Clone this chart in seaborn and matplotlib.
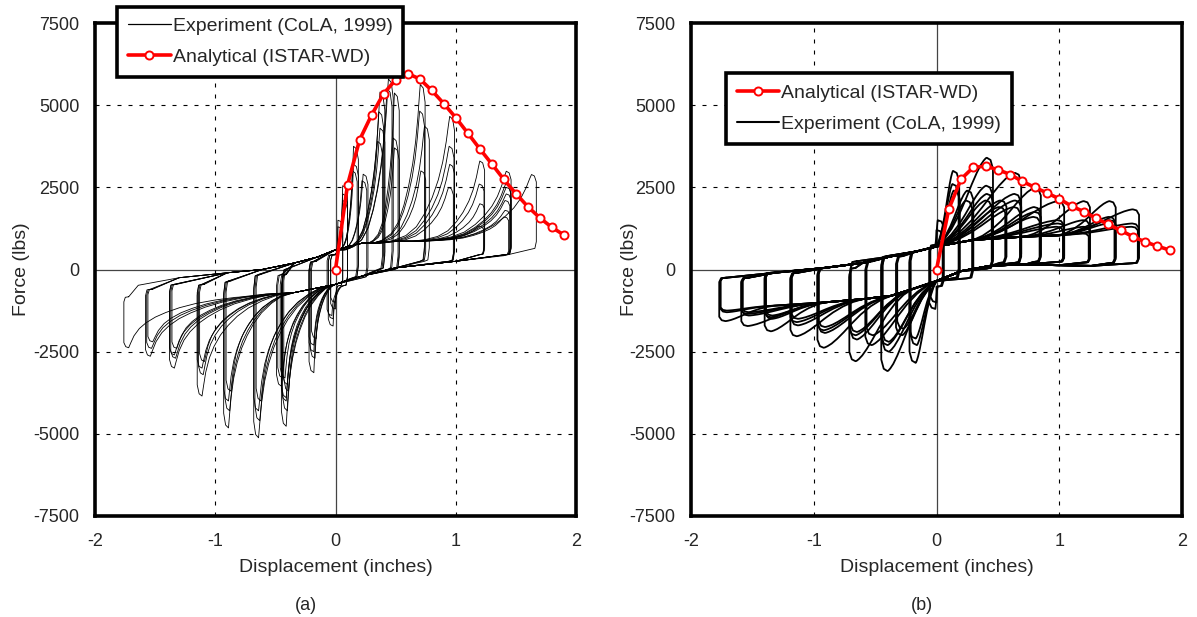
import numpy as np
import pandas as pd
import matplotlib
matplotlib.use("Agg")
import matplotlib.pyplot as plt
from matplotlib.lines import Line2D
import seaborn as sns

# analytical backbone (ISTAR-WD)
ana_disp = [0.0, 0.1, 0.2, 0.3, 0.4, 0.5, 0.6, 0.7, 0.8, 0.9,
            1.0, 1.1, 1.2, 1.3, 1.4, 1.5, 1.6, 1.7, 1.8, 1.9]
ana_force_a = [0, 2570, 3940, 4700, 5350, 5770, 5960, 5800, 5450, 5050,
               4620, 4150, 3670, 3210, 2740, 2310, 1910, 1570, 1280, 1050]
ana_force_b = [0, 1840, 2750, 3110, 3140, 3040, 2890, 2680, 2500, 2330,
               2150, 1930, 1760, 1560, 1370, 1190, 1000, 840, 710, 590]

# experiment (a): peak of every cycle
pos_disp_a = [0.06, 0.06, 0.10, 0.10, 0.10, 0.19, 0.19, 0.18, 0.27, 0.26,
              0.41, 0.40, 0.41, 0.39, 0.48, 0.47, 0.53, 0.52, 0.53,
              0.745, 0.74, 0.78, 0.75, 0.99, 0.985, 0.99, 0.98,
              1.24, 1.235, 1.24, 1.23, 1.46, 1.455, 1.46, 1.45, 1.46, 1.45, 1.44, 1.67]
pos_force_a = [1500, 1300, 2550, 2300, 2100, 3750, 3200, 3000, 2900, 2700,
               5400, 4800, 4300, 3900, 5800, 5500, 5370, 4000, 3700,
               5630, 4820, 4360, 3000, 4660, 3750, 3200, 2500,
               3300, 2600, 2000, 1320, 2990, 2600, 2300, 1800, 2500, 2100, 1600, 2890]
neg_disp_a = [-0.04, -0.04, -0.06, -0.06, -0.07, -0.22, -0.21, -0.22, -0.22, -0.20,
              -0.45, -0.44, -0.45, -0.43, -0.49, -0.48, -0.45, -0.44, -0.46,
              -0.68, -0.67, -0.68, -0.66, -0.93, -0.92, -0.93, -0.91,
              -1.15, -1.14, -1.15, -1.13, -1.38, -1.37, -1.38, -1.36, -1.58, -1.57, -1.56, -1.76]
neg_force_a = [-1200, -1000, -1720, -1500, -1400, -3140, -2700, -2500, -2300, -2100,
               -4770, -4300, -4000, -3700, -3550, -3300, -3900, -3500, -3300,
               -5120, -4600, -4300, -4000, -4820, -4300, -4000, -3700,
               -3850, -3200, -3000, -2800, -3000, -2700, -2600, -2400, -2640, -2400, -2200, -2380]
# experiment (a): pinched reloading / unloading paths
upper_disp_a = [-1.80, -1.64, -1.30, -0.90, -0.61, -0.34, -0.15, 0.0, 0.22, 0.50, 0.77, 1.00, 1.30, 1.60]
upper_force_a = [-700, -480, -250, -100, 0, 200, 380, 600, 800, 860, 900, 950, 1050, 1150]
lower_disp_a = [1.75, 1.40, 1.00, 0.50, 0.22, 0.0, -0.34, -0.61, -0.90, -1.17, -1.50, -1.80]
lower_force_a = [600, 420, 250, 50, -200, -450, -700, -800, -900, -1000, -1150, -1250]

# experiment (b): peak of every cycle
pos_disp_b = [0.06, 0.05, 0.185, 0.18, 0.19, 0.30, 0.29, 0.46, 0.455, 0.46, 0.45,
              0.57, 0.56, 0.69, 0.685, 0.69, 0.68, 0.85, 0.845, 0.85, 0.84,
              1.04, 1.035, 1.04, 1.03, 1.25, 1.245, 1.25, 1.24, 1.46, 1.455, 1.46, 1.45,
              1.65, 1.645, 1.64]
pos_force_b = [1500, 1200, 3000, 2600, 2400, 2400, 2100, 3400, 2550, 2300, 2100,
               2100, 1900, 2940, 2300, 2100, 1900, 2480, 1900, 1750, 1600,
               2080, 1500, 1400, 1300, 2080, 1500, 1300, 1100, 2080, 1600, 1500, 1400,
               1830, 1400, 1300]
neg_disp_b = [-0.06, -0.05, -0.22, -0.21, -0.22, -0.33, -0.32, -0.45, -0.44, -0.45, -0.44,
              -0.58, -0.57, -0.71, -0.70, -0.71, -0.70, -0.97, -0.96, -0.97, -0.96,
              -1.19, -1.18, -1.19, -1.18, -1.40, -1.39, -1.40, -1.39, -1.59, -1.58, -1.59, -1.58,
              -1.77, -1.76, -1.76]
neg_force_b = [-1200, -1000, -2840, -2300, -2100, -2000, -1800, -3090, -2500, -2300, -2200,
               -2300, -2000, -2790, -2130, -2000, -1900, -2380, -1930, -1850, -1750,
               -2030, -1700, -1600, -1500, -1880, -1500, -1450, -1400, -1720, -1400, -1350, -1300,
               -1570, -1300, -1250]
upper_disp_b = [-1.85, -1.75, -1.32, -0.91, -0.60, -0.37, -0.15, 0.0, 0.30, 0.72, 1.00, 1.26, 1.64]
upper_force_b = [-450, -300, -100, 50, 200, 400, 560, 700, 900, 1000, 1040, 1060, 1080]
lower_disp_b = [1.75, 1.64, 1.26, 1.00, 0.72, 0.45, 0.20, 0.0, -0.20, -0.37, -0.60, -0.91, -1.32, -1.60, -1.85]
lower_force_b = [150, 100, 110, 130, 150, 120, -50, -350, -600, -800, -900, -1000, -1100, -1200, -1300]

# loop outline (fraction of the way from the branch to the peak)
shape_t_a = [0.2, 0.35, 0.5, 0.62, 0.72, 0.8, 0.87, 0.92, 0.96, 0.985, 1.0]
shape_pos_a = [0.0, 0.02, 0.06, 0.13, 0.24, 0.36, 0.5, 0.64, 0.8, 0.93, 1.0]
shape_neg_a = [0.03, 0.08, 0.15, 0.23, 0.32, 0.41, 0.52, 0.63, 0.77, 0.91, 1.0]
shape_t_b = [0.15, 0.3, 0.45, 0.58, 0.7, 0.8, 0.88, 0.94, 0.98, 1.0]
shape_pos_b = [0.08, 0.2, 0.36, 0.53, 0.7, 0.83, 0.92, 0.97, 0.995, 1.0]
shape_neg_b = [0.08, 0.2, 0.36, 0.53, 0.7, 0.83, 0.92, 0.97, 0.995, 1.0]

style_a = dict(t=shape_t_a, fpos=shape_pos_a, fneg=shape_neg_a,
               start_pos=lambda d: d * 0.45, start_neg=lambda d: d * 0.38,
               corner=0.04, gap_rise=350, gap_drop=200)
style_b = dict(t=shape_t_b, fpos=shape_pos_b, fneg=shape_neg_b,
               start_pos=lambda d: max(0.01, d - 0.4), start_neg=lambda d: min(-0.01, d + 0.4),
               corner=0.05, gap_rise=150, gap_drop=80)


def loop_xy(dp, fp, dn, fn, up_x, up_f, lo_x, lo_f, st):
    xs, fs = [], []
    c = st["corner"]
    # start just after the negative reversal
    i_up = next(i for i, x in enumerate(up_x) if x > dn + 0.1)
    x0, f0 = dn + c, up_f[i_up] - st["gap_rise"]
    xs.append(x0); fs.append(f0)
    bx, bf = x0, f0
    xr = st["start_pos"](dp)
    for x, f in zip(up_x, up_f):
        if dn + 0.1 < x < xr:
            xs.append(x); fs.append(f); bx, bf = x, f
    px = dp - c
    for t, s in zip(st["t"], st["fpos"]):
        xs.append(bx + t * (px - bx)); fs.append(bf + s * (fp - bf))
    # unloading drop
    i_lo = next(i for i, x in enumerate(lo_x) if x < dp - 0.1)
    fe = lo_f[i_lo] + st["gap_drop"]
    xs += [dp - 0.4 * c, dp, dp, dp - 0.3 * c, dp - c]
    fs += [fp - 0.02 * (fp - fe), fp - 0.1 * (fp - fe), fe + 0.1 * (fp - fe),
           fe + 0.01 * (fp - fe), fe]
    bx, bf = dp - c, fe
    xr = st["start_neg"](dn)
    for x, f in zip(lo_x, lo_f):
        if xr < x < dp - 0.1:
            xs.append(x); fs.append(f); bx, bf = x, f
    px = dn + c
    for t, s in zip(st["t"], st["fneg"]):
        xs.append(bx + t * (px - bx)); fs.append(bf + s * (fn - bf))
    xs += [dn + 0.4 * c, dn, dn, dn + 0.3 * c, x0]
    fs += [fn - 0.02 * (fn - f0), fn - 0.1 * (fn - f0), f0 + 0.1 * (fn - f0),
           f0 + 0.01 * (fn - f0), f0]
    return xs, fs


def exp_frame(pd_, pf, nd, nf, ux, uf, lx, lf, st):
    rows = []
    for k, (a, b, c, d) in enumerate(zip(pd_, pf, nd, nf)):
        xs, fs = loop_xy(a, b, c, d, ux, uf, lx, lf, st)
        rows += [(k, x, f) for x, f in zip(xs, fs)]
    return pd.DataFrame(rows, columns=["cycle", "disp", "force"])


sns.set_theme(style="white")
plt.rcParams["font.family"] = ["Liberation Sans", "DejaVu Sans"]
plt.rcParams["axes.unicode_minus"] = False

fig = plt.figure(figsize=(11.97, 6.17), dpi=100)
ax_a = fig.add_axes([95 / 1197, 1 - 516 / 617, 481 / 1197, 493 / 617])
ax_b = fig.add_axes([691 / 1197, 1 - 516 / 617, 491 / 1197, 493 / 617])

df_a = exp_frame(pos_disp_a, pos_force_a, neg_disp_a, neg_force_a,
                 upper_disp_a, upper_force_a, lower_disp_a, lower_force_a, style_a)
df_b = exp_frame(pos_disp_b, pos_force_b, neg_disp_b, neg_force_b,
                 upper_disp_b, upper_force_b, lower_disp_b, lower_force_b, style_b)
ana_a = pd.DataFrame({"disp": ana_disp, "force": ana_force_a})
ana_b = pd.DataFrame({"disp": ana_disp, "force": ana_force_b})

for ax, df, ana, lw_exp in [(ax_a, df_a, ana_a, 0.6), (ax_b, df_b, ana_b, 1.3)]:
    ax.axvline(0, color="#444444", lw=0.9, zorder=1)
    ax.axhline(0, color="#444444", lw=0.9, zorder=1)
    for v in [-1, 1]:
        ax.axvline(v, color="black", lw=0.8, ls=(0, (3.6, 6.3)), zorder=1)
    for v in [-5000, -2500, 2500, 5000]:
        ax.axhline(v, color="black", lw=0.8, ls=(0, (3.6, 6.3)), zorder=1)
    sns.lineplot(data=df, x="disp", y="force", units="cycle", estimator=None, sort=False,
                 color="black", lw=lw_exp, ax=ax, legend=False, zorder=2)
    sns.lineplot(data=ana, x="disp", y="force", sort=False, color="red", lw=2.6,
                 marker="o", markersize=5.8, markerfacecolor="white", markeredgecolor="red",
                 markeredgewidth=1.4, ax=ax, legend=False, zorder=3)
    ax.set_xlim(-2, 2)
    ax.set_ylim(-7500, 7500)
    ax.set_xticks([-2, -1, 0, 1, 2])
    ax.set_yticks([-7500, -5000, -2500, 0, 2500, 5000, 7500])
    ax.tick_params(length=0, labelsize=13)
    ax.tick_params(axis="x", pad=12)
    ax.tick_params(axis="y", pad=11)
    for s in ax.spines.values():
        s.set_linewidth(2.6)
        s.set_color("black")
    ax.set_xlabel("Displacement (inches)", fontsize=14)
    ax.set_ylabel("Force (lbs)", fontsize=14)
    ax.grid(False)

ax_a.xaxis.set_label_coords(0.5, -0.087)
ax_b.xaxis.set_label_coords(0.5, -0.087)
ax_a.yaxis.set_label_coords(-0.135, 0.5)
ax_b.yaxis.set_label_coords(-0.108, 0.5)

h_exp_a = Line2D([], [], color="black", lw=0.9)
h_exp_b = Line2D([], [], color="black", lw=1.5)
h_ana = Line2D([], [], color="red", lw=2.6, marker="o", markersize=5.8,
               markerfacecolor="white", markeredgecolor="red", markeredgewidth=1.4)

leg_kw = dict(loc="upper left", borderaxespad=0, fancybox=False, framealpha=1,
              edgecolor="black", fontsize=14, handlelength=2.2, handletextpad=0.1,
              labelspacing=0.7, borderpad=0.55)
leg_a = ax_a.legend([h_exp_a, h_ana], ["Experiment (CoLA, 1999)", "Analytical (ISTAR-WD)"],
                    bbox_to_anchor=(0.046, 1.033), **leg_kw)
leg_b = ax_b.legend([h_ana, h_exp_b], ["Analytical (ISTAR-WD)", "Experiment (CoLA, 1999)"],
                    bbox_to_anchor=(0.071, 0.898), **leg_kw)
for leg in (leg_a, leg_b):
    leg.get_frame().set_linewidth(2.6)
    leg.set_zorder(5)

fig.text(306 / 1197, 1 - 605 / 617, "(a)", ha="center", va="center", fontsize=13)
fig.text(922 / 1197, 1 - 605 / 617, "(b)", ha="center", va="center", fontsize=13)

fig.savefig("out.png", dpi=100, facecolor="white")
